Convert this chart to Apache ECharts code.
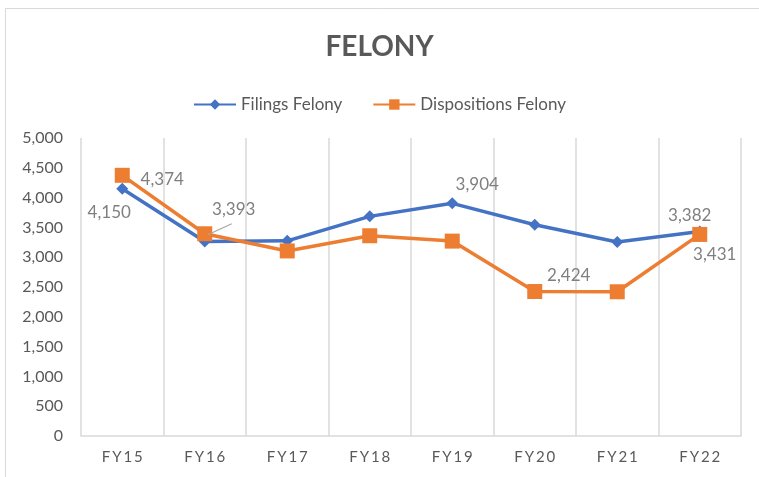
<!DOCTYPE html>
<html lang="en">

<head>
  <meta charset="UTF-8">
  <title>Felony</title>
  <script src="https://cdn.jsdelivr.net/npm/echarts@6/dist/echarts.min.js"></script>
  <style>
    html,
    body {
      margin: 0;
      padding: 0;
      width: 100%;
      height: 100%;
      background: #fff;
    }

    #chart {
      width: 759px;
      height: 477px;
    }
  </style>
</head>

<body>
  <div id="chart"></div>

  <script>
    // data
    const years = ['FY15', 'FY16', 'FY17', 'FY18', 'FY19', 'FY20', 'FY21', 'FY22'];
    const filings = [4150, 3262, 3275, 3685, 3904, 3545, 3255, 3431];
    const dispositions = [4374, 3393, 3105, 3360, 3270, 2424, 2420, 3382];
    const yTicks = { min: 0, max: 5000, step: 500 };

    // which points carry a value label, and where it sits (px from the marker)
    const filingsLabels = { 0: [-13, 24], 4: [25, -19], 7: [15, 23] };
    const dispositionsLabels = { 0: [40, 4], 1: [29, -24], 5: [34, -16], 7: [-10, -19] };
    const leaderIndex = 1; // the 3,393 label has a small guide line

    const grey = '#595959';
    const font = 'Lato';
    const fmt = v => v.toLocaleString('en-US');

    function withLabels(values, labels) {
      return values.map((v, i) => labels[i] ? { value: v, label: { show: true } } : v);
    }

    function valueLabel() {
      return {
        show: false,
        position: 'inside',
        fontFamily: font,
        fontSize: 17,
        color: '#7f7f7f',
        formatter: p => fmt(p.value)
      };
    }

    const chart = echarts.init(document.getElementById('chart'));

    const option = {
      animation: false,
      title: {
        text: 'FELONY',
        left: 'center',
        top: 28,
        textStyle: {
          fontFamily: font,
          fontSize: 28,
          fontWeight: 'bold',
          color: grey
        }
      },
      legend: {
        top: 91,
        left: 'center',
        itemWidth: 42,
        itemHeight: 13,
        itemGap: 30,
        textStyle: {
          fontFamily: font,
          fontSize: 17,
          color: grey
        }
      },
      graphic: [{
        type: 'rect',
        shape: { x: 5.5, y: 8.5, width: 800, height: 500 },
        style: { fill: 'none', stroke: '#d9d9d9', lineWidth: 1 },
        silent: true
      }],
      grid: {
        left: 81,
        right: 18,
        top: 138,
        bottom: 41
      },
      xAxis: {
        type: 'category',
        data: years,
        boundaryGap: true,
        axisLine: { lineStyle: { color: '#d9d9d9', width: 1.5 } },
        axisTick: { show: false },
        axisLabel: {
          margin: 14,
          fontFamily: font,
          fontSize: 15,
          color: grey,
          formatter: v => v.split('').join('\u2009')
        },
        splitLine: {
          show: true,
          lineStyle: { color: '#d9d9d9', width: 1.5 }
        }
      },
      yAxis: {
        type: 'value',
        min: yTicks.min,
        max: yTicks.max,
        interval: yTicks.step,
        axisLine: { show: false },
        axisTick: { show: false },
        splitLine: { show: false },
        axisLabel: {
          margin: 18,
          fontFamily: font,
          fontSize: 16,
          color: grey,
          formatter: fmt
        }
      },
      series: [{
          name: 'Filings Felony',
          type: 'line',
          data: withLabels(filings, filingsLabels),
          symbol: 'diamond',
          symbolSize: 12,
          color: '#4472C4',
          lineStyle: { width: 3.5, color: '#4472C4' },
          itemStyle: { color: '#4472C4' },
          label: valueLabel(),
          labelLayout: p => {
            const o = filingsLabels[p.dataIndex];
            return o ? { dx: o[0], dy: o[1] } : {};
          },
          z: 2
        },
        {
          name: 'Dispositions Felony',
          type: 'line',
          data: withLabels(dispositions, dispositionsLabels),
          symbol: 'rect',
          symbolSize: 15,
          color: '#ED7D31',
          lineStyle: { width: 3.5, color: '#ED7D31' },
          itemStyle: { color: '#ED7D31' },
          label: valueLabel(),
          labelLayout: p => {
            const o = dispositionsLabels[p.dataIndex];
            return o ? { dx: o[0], dy: o[1] } : {};
          },
          z: 3
        }
      ]
    };

    chart.setOption(option);

    // guide line from the 3,393 marker towards its label, placed from the data point
    const p = chart.convertToPixel({ seriesIndex: 1 }, [leaderIndex, dispositions[leaderIndex]]);
    chart.setOption({
      graphic: [{
        type: 'rect',
        shape: { x: 5.5, y: 8.5, width: 800, height: 500 },
        style: { fill: 'none', stroke: '#d9d9d9', lineWidth: 1 },
        silent: true
      }, {
        type: 'line',
        shape: { x1: p[0] + 3, y1: p[1] + 1, x2: p[0] + 27, y2: p[1] - 10 },
        style: { stroke: '#a6a6a6', lineWidth: 1.2 },
        z: 10,
        silent: true
      }]
    });
  </script>
</body>

</html>
